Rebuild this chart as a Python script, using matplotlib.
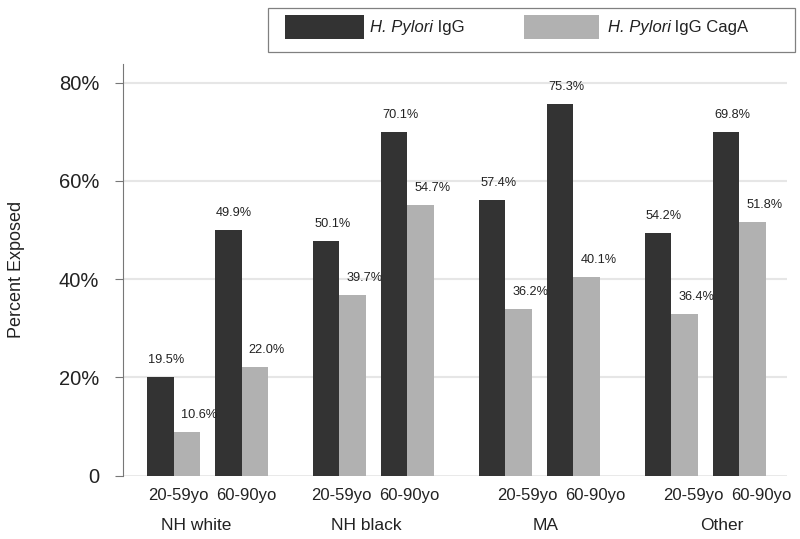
import matplotlib
matplotlib.use('Agg')
import matplotlib.pyplot as plt
from matplotlib.patches import Rectangle

plt.rcParams['font.family'] = ['Liberation Sans', 'DejaVu Sans']

groups = ['NH white', 'NH black', 'MA', 'Other']
ages = ['20-59yo', '60-90yo']

# bar heights as drawn (percent)
igg = [20.0, 50.0, 47.8, 70.0, 56.1, 75.6, 49.4, 70.0]
caga = [9.0, 22.2, 36.7, 55.1, 33.9, 40.5, 32.9, 51.7]

# printed labels above the bars
igg_labels = ['19.5%', '49.9%', '50.1%', '70.1%', '57.4%', '75.3%', '54.2%', '69.8%']
caga_labels = ['10.6%', '22.0%', '39.7%', '54.7%', '36.2%', '40.1%', '36.4%', '51.8%']

yticks = [0, 20, 40, 60, 80]
yticklabels = ['0', '20%', '40%', '60%', '80%']

legend_names = ['IgG', 'IgG CagA']

dark = '#333333'
light = '#b1b1b1'

fig = plt.figure(figsize=(8, 5.39), dpi=100)
ax = fig.add_axes([0.1534, 0.1174, 0.83, 0.7639])

group_step = 2.44
width = 0.39
centers = []
for g in range(len(groups)):
    for s in range(len(ages)):
        centers.append(g * group_step + s)

ax.bar([c - width / 2 for c in centers], igg, width=width, color=dark, zorder=3)
ax.bar([c + width / 2 for c in centers], caga, width=width, color=light, zorder=3)

for c, h, lab in zip(centers, igg, igg_labels):
    ax.annotate(lab, xy=(c - width / 2, h), xytext=(6, 17), textcoords='offset pixels',
                ha='center', va='center', fontsize=9.2, color='#222222')
for c, h, lab in zip(centers, caga, caga_labels):
    ax.annotate(lab, xy=(c + width / 2, h), xytext=(12, 17), textcoords='offset pixels',
                ha='center', va='center', fontsize=9.2, color='#222222')

ax.set_xlim(-0.747, 9.018)
ax.set_ylim(0, 83.8)
ax.set_yticks(yticks)
ax.set_yticklabels(yticklabels, fontsize=14.5, color='#222222')
ax.tick_params(axis='y', direction='out', length=6, width=0.8, color='#777777', pad=11)
ax.set_xticks([])

for y in yticks[1:]:
    ax.axhline(y, color='#e6e6e6', linewidth=1.5, zorder=1)
ax.axhline(0, color='#555555', linewidth=0.9, zorder=2)

for side in ['top', 'right', 'bottom']:
    ax.spines[side].set_visible(False)
ax.spines['left'].set_color('#777777')
ax.spines['left'].set_linewidth(0.8)

ax.set_ylabel('Percent Exposed', fontsize=13, color='#222222', labelpad=24)

# age labels under each pair, group labels below them
age_shift = [0.07, 0.03, 0.33, 0.33]
group_shift = [-0.17, -0.10, 0.09, 0.25]
for g, name in enumerate(groups):
    for s, age in enumerate(ages):
        ax.annotate(age, xy=(g * group_step + s + age_shift[g], 0), xytext=(0, -19.5),
                    textcoords='offset pixels', ha='center', va='center',
                    fontsize=12, color='#222222', annotation_clip=False)
    ax.annotate(name, xy=(g * group_step + 0.5 + group_shift[g], 0), xytext=(0, -49.5),
                textcoords='offset pixels', ha='center', va='center',
                fontsize=12.5, color='#222222', annotation_clip=False)

# legend box at the top
W, H = 800, 539


def fx(px):
    return px / W


def fy(py):
    return 1 - py / H


fig.patches.append(Rectangle((fx(267.5), fy(51.5)), fx(794.5) - fx(267.5), fy(7.5) - fy(51.5),
                             transform=fig.transFigure, facecolor='white',
                             edgecolor='#808080', linewidth=0.9))
fig.patches.append(Rectangle((fx(284.5), fy(39.3)), fx(364) - fx(284.5), fy(15) - fy(39.3),
                             transform=fig.transFigure, facecolor=dark, edgecolor='none'))
fig.patches.append(Rectangle((fx(523.5), fy(39.3)), fx(599) - fx(523.5), fy(15) - fy(39.3),
                             transform=fig.transFigure, facecolor=light, edgecolor='none'))

fig.canvas.draw()
renderer = fig.canvas.get_renderer()
for x0, rest in zip([370, 607.5], legend_names):
    t = fig.text(fx(x0), fy(27.3), 'H. Pylori', style='italic', fontsize=12,
                 ha='left', va='center', color='#222222')
    bb = t.get_window_extent(renderer=renderer)
    fig.text(bb.x1 / W, fy(27.3), ' ' + rest, fontsize=12,
             ha='left', va='center', color='#222222')

fig.savefig('out.png', dpi=100)
